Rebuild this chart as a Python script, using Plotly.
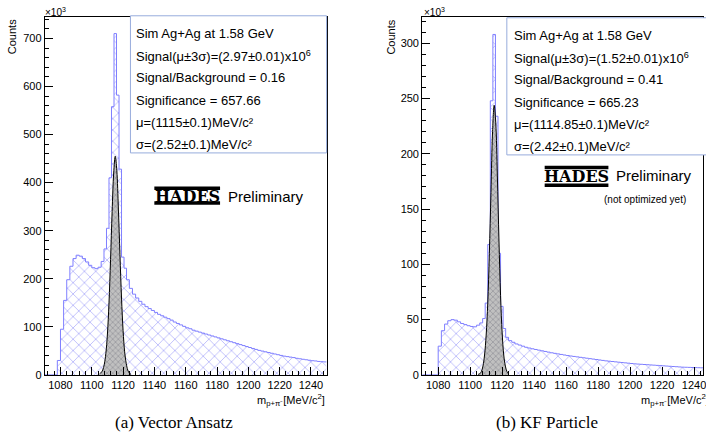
import plotly.graph_objects as go

W, H = 706, 447

# ---------------- data ----------------
# bin edges: 2 MeV bins, finer bins across the Lambda peak
bin_edges = (list(range(1070, 1108, 2))
             + [1107.8, 1109.4, 1111.0, 1112.6, 1114.2, 1115.8, 1117.4,
                1119.0, 1120.6, 1122.2]
             + list(range(1124, 1252, 2)))

va_counts = ([0, 0, 0, 0, 30, 95, 155, 198, 226, 242,
              249, 247, 242, 235, 228, 223, 221, 224]
             + [236, 262, 305, 410, 558, 710, 582, 428, 245, 222, 198]
             + [180, 168, 160, 153, 147, 142, 138, 134, 130, 126,
                123, 120, 117, 114, 110, 107, 104, 101, 98, 96,
                93, 91, 89, 87, 85, 83, 81, 79, 77, 75,
                73, 71, 69, 67, 65, 63, 61, 59, 57, 55,
                53, 51, 49.5, 48, 46.5, 45, 43.5, 42, 40.5, 39,
                38, 37, 36, 34.5, 33.5, 32.5, 31.5, 30.5, 29.5, 29,
                28, 27.5, 27])

kf_counts = ([0, 0, 0, 0, 0, 26, 40, 46, 49, 50,
              49.5, 48, 46.5, 45.5, 44.5, 43.8, 43.5, 45]
             + [47, 51, 65, 118, 248, 308, 234, 110, 62, 42, 34]
             + [31, 29.5, 28, 27, 26, 25, 24.3, 23.6, 23, 22.4,
                21.8, 21.2, 20.6, 20, 19.5, 19, 18.5, 18, 17.5, 17.1,
                16.7, 16.3, 15.9, 15.5, 15.1, 14.7, 14.3, 13.9, 13.5, 13.1,
                12.7, 12.4, 12.1, 11.8, 11.5, 11.2, 10.9, 10.6, 10.3, 10,
                9.8, 9.6, 9.4, 9.2, 9.0, 8.8, 8.6, 8.4, 8.2, 8.0,
                7.8, 7.6, 7.4, 7.2, 7.0, 6.9, 6.8, 6.7, 6.6, 6.5,
                6.4, 6.3, 6.2])

va_sig_x = [1105, 1106, 1107, 1108, 1109, 1110, 1111, 1112, 1113, 1114, 1115,
            1116, 1117, 1118, 1119, 1120, 1121, 1122, 1123, 1124, 1125]
va_sig_y = [2, 5, 10, 22, 45, 85, 150, 240, 340, 420, 455,
            425, 345, 250, 160, 92, 48, 24, 10, 4, 1]

kf_sig_x = [1105, 1106, 1107, 1108, 1109, 1110, 1111, 1112, 1113, 1114, 1115,
            1116, 1117, 1118, 1119, 1120, 1121, 1122, 1123, 1124]
kf_sig_y = [0.5, 1, 3, 8, 18, 36, 65, 110, 165, 220, 244,
            228, 180, 122, 72, 38, 18, 8, 3, 1]

va_lines = ["Sim Ag+Ag at 1.58 GeV",
            "Signal(μ±3σ)=(2.97±0.01)x10<sup>6</sup>",
            "Signal/Background = 0.16",
            "Significance = 657.66",
            "μ=(1115±0.1)MeV/c²",
            "σ=(2.52±0.1)MeV/c²"]
kf_lines = ["Sim Ag+Ag at 1.58 GeV",
            "Signal(μ±3σ)=(1.52±0.01)x10<sup>6</sup>",
            "Signal/Background = 0.41",
            "Significance = 665.23",
            "μ=(1114.85±0.1)MeV/c²",
            "σ=(2.42±0.1)MeV/c²"]

x_ticks = [1080, 1100, 1120, 1140, 1160, 1180, 1200, 1220, 1240]

# ---------------- helpers ----------------
def px(x):
    return x / W

def py(y):
    return 1 - y / H

BLUE_LINE = "#7f7fff"
BLUE_HATCH = "#6f6ff5"
BOX_LINE = "#97acdc"
SANS = "Liberation Sans"

fig = go.Figure()

def add_hist(edges, counts, xa, ya):
    fig.add_trace(go.Scatter(
        x=edges, y=counts + [counts[-1]], mode="lines", line_shape="hv",
        line=dict(color=BLUE_LINE, width=1), fill="tozeroy",
        fillcolor="rgba(0,0,0,0)",
        fillpattern=dict(shape="x", fgcolor=BLUE_HATCH, bgcolor="white",
                         size=8, solidity=0.2),
        xaxis=xa, yaxis=ya, hoverinfo="skip", showlegend=False))

def add_sig(xs, ys, xa, ya):
    fig.add_trace(go.Scatter(
        x=xs, y=ys, mode="lines", line_shape="spline",
        line=dict(color="black", width=1), fill="tozeroy",
        fillpattern=dict(shape="x", fgcolor="#4a4a5a", bgcolor="#c0c0c0",
                         size=4, solidity=0.25),
        xaxis=xa, yaxis=ya, hoverinfo="skip", showlegend=False))

add_hist(bin_edges, va_counts, "x", "y")
add_sig(va_sig_x, va_sig_y, "x", "y")
add_hist(bin_edges, kf_counts, "x2", "y2")
add_sig(kf_sig_x, kf_sig_y, "x2", "y2")

tickfont = dict(family=SANS, size=11, color="black")
common_x = dict(tickmode="array", tickvals=x_ticks, ticks="inside", ticklen=8,
                tickcolor="black", showgrid=False, zeroline=False,
                showline=True, linecolor="black", linewidth=1, mirror=True,
                tickfont=tickfont, ticklabeloverflow="allow",
                minor=dict(dtick=4, tick0=1080, ticks="inside", ticklen=4,
                           tickcolor="black", showgrid=False))
common_y = dict(ticks="inside", ticklen=8, tickcolor="black", showgrid=False,
                zeroline=False, showline=True, linecolor="black", linewidth=1,
                mirror=True, tickfont=tickfont)

ydom = [py(380), py(17)]
fig.update_layout(
    width=W, height=H, margin=dict(l=0, r=0, t=0, b=0),
    paper_bgcolor="white", plot_bgcolor="white", showlegend=False,
    xaxis=dict(domain=[px(45), px(328)], range=[1070, 1250], anchor="y",
               **common_x),
    yaxis=dict(domain=ydom, range=[0, 745], anchor="x", dtick=100, tick0=0,
               minor=dict(dtick=20, ticks="inside", ticklen=4,
                          tickcolor="black", showgrid=False),
               **common_y),
    xaxis2=dict(domain=[px(424), 1.0], range=[1070, 1245.6], anchor="y2",
                **common_x),
    yaxis2=dict(domain=ydom, range=[0, 324], anchor="x2", dtick=50, tick0=0,
                minor=dict(dtick=10, ticks="inside", ticklen=4,
                           tickcolor="black", showgrid=False),
                **common_y),
)

shapes = []
ann = []

def text(x, y, s, size=13, anchor="left", family=SANS, angle=0, yanchor="middle"):
    ann.append(dict(x=px(x), y=py(y), xref="paper", yref="paper", text=s,
                    showarrow=False, xanchor=anchor, yanchor=yanchor,
                    textangle=angle,
                    font=dict(family=family, size=size, color="black")))

# stat boxes
shapes.append(dict(type="rect", xref="paper", yref="paper",
                   x0=px(131), x1=px(328), y0=py(155), y1=py(16),
                   line=dict(color=BOX_LINE, width=1), fillcolor="white"))
shapes.append(dict(type="rect", xref="paper", yref="paper",
                   x0=px(509), x1=px(760), y0=py(157), y1=py(18),
                   line=dict(color=BOX_LINE, width=1), fillcolor="white"))
for i, s in enumerate(va_lines):
    text(135, 34 + 22.5 * i, s)
for i, s in enumerate(kf_lines):
    text(514, 36 + 22.5 * i, s)

# HADES logos
def logo(x0, x1, ytop, ybot, bar):
    shapes.append(dict(type="rect", xref="paper", yref="paper",
                       x0=px(x0), x1=px(x1), y0=py(ytop + bar), y1=py(ytop),
                       line=dict(width=0), fillcolor="black"))
    shapes.append(dict(type="rect", xref="paper", yref="paper",
                       x0=px(x0), x1=px(x1), y0=py(ybot), y1=py(ybot - bar),
                       line=dict(width=0), fillcolor="black"))
    text((x0 + x1) / 2, (ytop + ybot) / 2 + 0.5, "<b>HADES</b>", size=16,
         anchor="center", family="DejaVu Serif")

logo(155, 221, 189, 207.5, 3.5)
text(227, 199, "Preliminary", size=15)
logo(547, 611, 168, 189.5, 3.5)
text(617, 178, "Preliminary", size=15)
text(605, 202, "(not optimized yet)", size=10)

# axis titles
text(43, 12, "×10<sup>3</sup>", size=10)
text(424, 12, "×10<sup>3</sup>", size=10)
text(12, 17, "Counts", size=11, anchor="center", angle=-90, yanchor="top")
text(393, 18, "Counts", size=11, anchor="center", angle=-90, yanchor="top")
text(328, 405, "m<sub>p+π⁻</sub>[MeV/c<sup>2</sup>]", size=11, anchor="right")
text(642, 405, "m<sub>p+π⁻</sub>[MeV/c<sup>2</sup>]", size=11, anchor="left")

# captions
text(175, 428, "(a) Vector Ansatz", size=17, anchor="center", family="Liberation Serif")
text(549, 428, "(b) KF Particle", size=17, anchor="center", family="Liberation Serif")

fig.update_layout(shapes=shapes, annotations=ann)
fig.write_html("out.html", config={"displayModeBar": False},
               post_script="document.body.style.margin='0';document.body.style.overflow='hidden';")
